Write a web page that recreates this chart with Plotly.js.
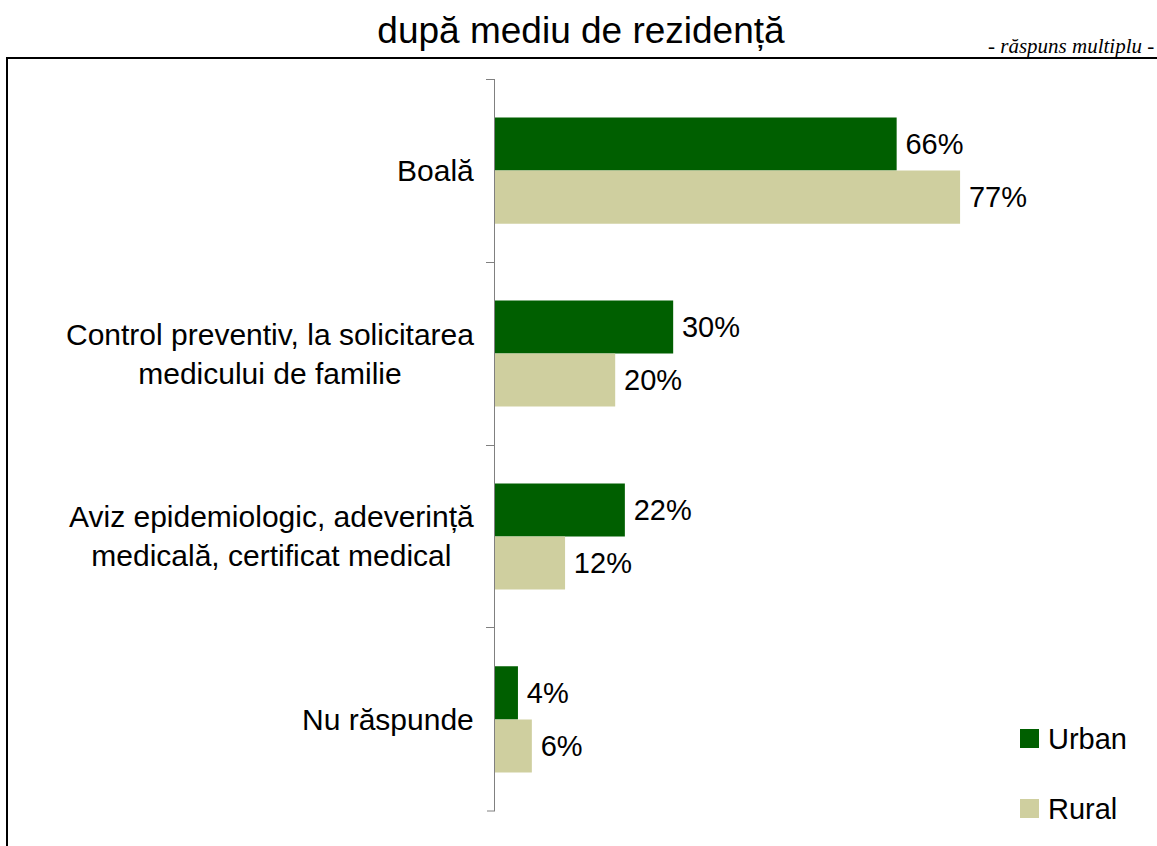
<!DOCTYPE html>
<html>
<head>
<meta charset="utf-8">
<script src="https://cdn.plot.ly/plotly-3.0.1.min.js"></script>
<style>html,body{margin:0;padding:0;background:#fff;}#chart{width:1157px;height:846px;}</style>
</head>
<body>
<div id="chart"></div>
<script>
const categories = ['Boală', 'Control preventiv, la solicitarea<br>medicului de familie', 'Aviz epidemiologic, adeverință<br>medicală, certificat medical', 'Nu răspunde'];
const seriesNames = ['Urban', 'Rural'];
const urbanValues = [66.5, 29.5, 21.5, 3.8];
const ruralValues = [77.0, 19.9, 11.6, 6.1];
const urbanLabels = ['66%', '30%', '22%', '4%'];
const ruralLabels = ['77%', '20%', '12%', '6%'];
const titleText = 'după mediu de rezidență';
const subtitleText = '- răspuns multiplu -';

const colors = ['#005f00', '#cfcf9f'];
const FONT = 'Liberation Sans, Arial, sans-serif';
const fs = 29;

// plot area geometry (px) used to convert paper coordinates for decorations
const L = 495, R = 1099, T = 79, B = 811;
const px = x => (x - L) / (R - L);
const py = y => (B - y) / (B - T);

const traces = [
  {name: seriesNames[0], values: urbanValues, labels: urbanLabels, color: colors[0]},
  {name: seriesNames[1], values: ruralValues, labels: ruralLabels, color: colors[1]}
].map(s => ({
  type: 'bar', orientation: 'h', name: s.name,
  y: categories, x: s.values,
  marker: {color: s.color, line: {width: 0}},
  text: s.labels.map(t => '\u2009' + t),
  textposition: 'outside', cliponaxis: false,
  textfont: {family: FONT, size: fs, color: '#000'},
  hoverinfo: 'skip', showlegend: false
}));

const annotations = categories.map(c => ({
  xref: 'paper', yref: 'y', x: 0, y: c, xanchor: 'right', yanchor: 'middle',
  xshift: -19, text: c, align: 'center', showarrow: false,
  font: {family: FONT, size: 30, color: '#000'}
}));
annotations.push({
  xref: 'paper', yref: 'paper', x: px(1156), y: py(46), xanchor: 'right', yanchor: 'middle',
  text: subtitleText, showarrow: false,
  font: {family: 'Liberation Serif, Times New Roman, serif', size: 21, color: '#000', style: 'italic'}
});
const legendRows = [{y: 738.5}, {y: 808.5}];
const shapes = [{
  type: 'rect', xref: 'paper', yref: 'paper',
  x0: px(7), x1: px(1175), y0: py(870), y1: py(58),
  line: {color: '#000', width: 2}, fillcolor: 'rgba(0,0,0,0)'
}, {
  // closing boundary tick at the bottom of the category axis
  type: 'line', xref: 'paper', yref: 'paper',
  x0: px(487), x1: px(495), y0: 0, y1: 0,
  line: {color: '#808080', width: 1}
}];
seriesNames.forEach((n, i) => {
  const cy = legendRows[i].y;
  shapes.push({type: 'rect', xref: 'paper', yref: 'paper',
    x0: px(1020), x1: px(1039), y0: py(cy + 9.5), y1: py(cy - 9.5),
    line: {width: 0}, fillcolor: colors[i]});
  annotations.push({xref: 'paper', yref: 'paper', x: px(1046), y: py(cy),
    xanchor: 'left', yanchor: 'middle', text: n, showarrow: false,
    font: {family: FONT, size: fs, color: '#000'}});
});

const layout = {
  width: 1157, height: 846,
  margin: {l: L, r: 1157 - R, t: T, b: 846 - B, pad: 0},
  paper_bgcolor: '#fff', plot_bgcolor: '#fff',
  title: {text: titleText, font: {family: FONT, size: 37, color: '#000'},
    xref: 'container', x: 581 / 1157, xanchor: 'center',
    yref: 'container', y: 1 - 30 / 846, yanchor: 'middle'},
  barmode: 'group', bargap: 0.42, bargroupgap: 0,
  xaxis: {range: [0, 100], visible: false, fixedrange: true},
  yaxis: {type: 'category', categoryarray: categories, categoryorder: 'array',
    range: [3.5005, -0.5005], showline: true, linecolor: '#808080', linewidth: 1,
    ticks: 'outside', ticklen: 8, tickcolor: '#808080', tickwidth: 1,
    tickson: 'boundaries', showticklabels: false, showgrid: false, zeroline: false,
    fixedrange: true},
  showlegend: false,
  annotations: annotations,
  shapes: shapes,
  hovermode: false
};

Plotly.newPlot('chart', traces, layout, {displayModeBar: false, staticPlot: true});
</script>
</body>
</html>
